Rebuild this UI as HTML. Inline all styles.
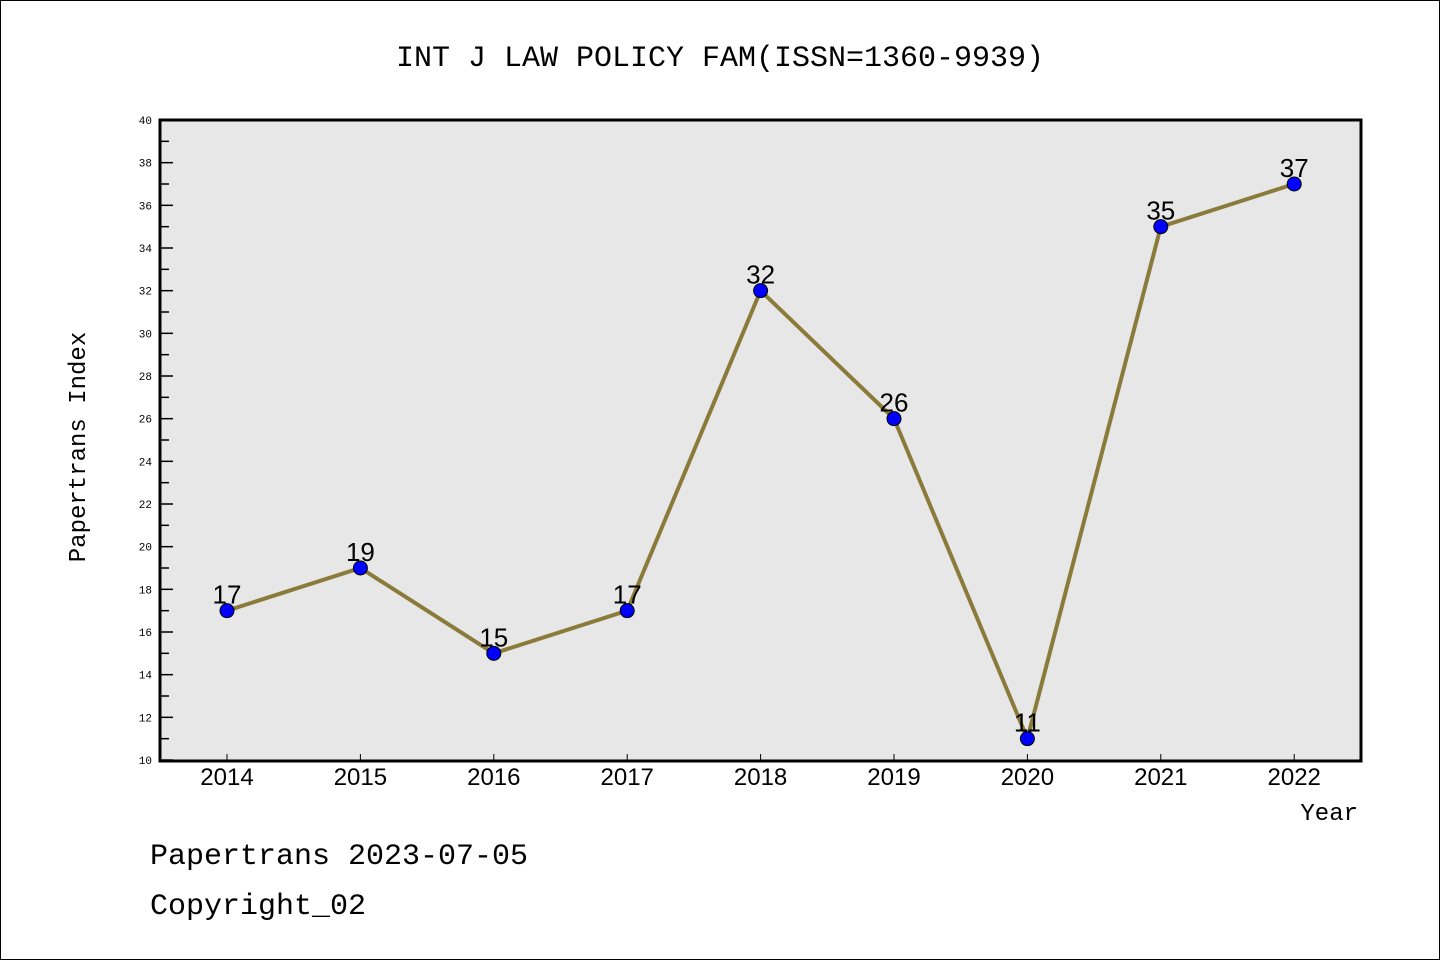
<!DOCTYPE html>
<html><head><meta charset="utf-8"><style>
body{margin:0;background:#fff;}
svg{display:block;font-family:"Liberation Mono","DejaVu Sans Mono",monospace;}
</style></head><body>
<svg width="1440" height="960" id="chart">
<rect x="0.5" y="0.5" width="1439" height="959" fill="#fff" stroke="#000"/>
<text x="720" y="66" font-size="30" text-anchor="middle">INT J LAW POLICY FAM(ISSN=1360-9939)</text>
<rect x="160" y="120" width="1201" height="641" fill="#e7e7e7" stroke="#000" stroke-width="3"/>
<text transform="translate(85,447) rotate(-90)" font-size="24" text-anchor="middle">Papertrans Index</text>
<text x="1358" y="820" font-size="24" text-anchor="end">Year</text>
<text x="150" y="864" font-size="30">Papertrans 2023-07-05</text>
<text x="150" y="914" font-size="30">Copyright_02</text>
<g id="axes"></g><g id="marks"></g>
</svg>
<script>
const years=["2014","2015","2016","2017","2018","2019","2020","2021","2022"];
const values=[17,19,15,17,32,26,11,35,37];
const yTicks=[10,12,14,16,18,20,22,24,26,28,30,32,34,36,38,40];
const NS="http://www.w3.org/2000/svg";
const x=i=>227+i*133.4;
const y=v=>760-(v-10)*(640/30);
function mk(t,a,p){const e=document.createElementNS(NS,t);for(const k in a)e.setAttribute(k,a[k]);p.appendChild(e);return e;}
const ax=document.getElementById('axes'),mg=document.getElementById('marks');
yTicks.forEach(v=>{
 const t=mk('line',{x1:160,x2:173,y1:y(v),y2:y(v),stroke:'#000','stroke-width':1.5},ax);
 
 
 const l=mk('text',{x:152,y:y(v)+4,'font-size':11,'text-anchor':'end'},ax);l.textContent=v;
 
 
 if(v<40){const m=mk('line',{x1:160,x2:169,y1:y(v+1),y2:y(v+1),stroke:'#000','stroke-width':1.5},ax);
 
 }
});
years.forEach((yr,i)=>{
 const t=mk('line',{x1:x(i),x2:x(i),y1:760,y2:754,stroke:'#000','stroke-width':1},ax);
 
 
 const l=mk('text',{x:x(i),y:785,'font-size':24,'text-anchor':'middle','font-family':'Liberation Sans, sans-serif'},ax);l.textContent=yr;
 
 
});
const pl=mk('polyline',{points:values.map((v,i)=>x(i)+','+y(v)).join(' '),fill:'none',stroke:'#8b7b3a','stroke-width':4},mg);


values.forEach((v,i)=>{
 const c=mk('circle',{cx:x(i),cy:y(v),r:7,fill:'#0000ff',stroke:'#000','stroke-width':1},mg);
 
 
 const l=mk('text',{x:x(i),y:y(v)-7,'font-size':26,'text-anchor':'middle','font-family':'Liberation Sans, sans-serif'},mg);l.textContent=v;
 
 
});
</script>
</body></html>
